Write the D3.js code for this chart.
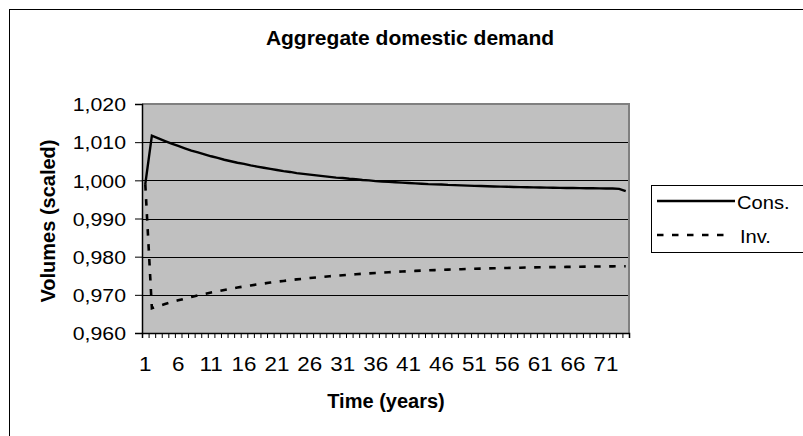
<!DOCTYPE html>
<html><head><meta charset="utf-8">
<script src="https://cdn.jsdelivr.net/npm/d3@7"></script>
<style>
html,body{margin:0;padding:0;background:#fff;}
svg{display:block;font-family:Arial,"Liberation Sans",sans-serif;}
</style></head>
<body>
<svg id="chart" width="803" height="436"></svg>
<script>
const categories = [1,2,3,4,5,6,7,8,9,10,11,12,13,14,15,16,17,18,19,20,21,22,23,24,25,26,27,28,29,30,31,32,33,34,35,36,37,38,39,40,41,42,43,44,45,46,47,48,49,50,51,52,53,54,55,56,57,58,59,60,61,62,63,64,65,66,67,68,69,70,71,72,73,74];
const xTickLabels = [1,6,11,16,21,26,31,36,41,46,51,56,61,66,71];
const yTicks = [0.96,0.97,0.98,0.99,1.00,1.01,1.02];
const yTickLabels = ["0,960","0,970","0,980","0,990","1,000","1,010","1,020"];
const seriesNames = ["Cons.","Inv."];
const cons = [0.9990,1.0117,1.0110,1.0103,1.0096,1.0090,1.0084,1.0078,1.0073,1.0068,1.0063,1.0059,1.0054,1.0050,1.0046,1.0043,1.0039,1.0036,1.0033,1.0030,1.0027,1.0024,1.0022,1.0019,1.0017,1.0015,1.0013,1.0011,1.0009,1.0007,1.0006,1.0004,1.0003,1.0001,1.0000,0.9998,0.9997,0.9996,0.9995,0.9994,0.9993,0.9992,0.9991,0.9990,0.99895,0.9989,0.9988,0.99874,0.99868,0.99862,0.99856,0.9985,0.99845,0.9984,0.99836,0.99831,0.99827,0.99823,0.99819,0.99816,0.99812,0.99809,0.99806,0.99803,0.998,0.99798,0.99795,0.99793,0.99791,0.99789,0.99787,0.99785,0.99775,0.99715];
const inv = [0.9990,0.9665,0.96705,0.96758,0.96807,0.96855,0.969,0.96943,0.96984,0.97023,0.9706,0.97095,0.97128,0.9716,0.9719,0.97219,0.97246,0.97272,0.97297,0.97321,0.97343,0.97364,0.97385,0.97404,0.97422,0.9744,0.97456,0.97472,0.97487,0.97501,0.97515,0.97528,0.9754,0.97552,0.97563,0.97574,0.97584,0.97593,0.97602,0.97611,0.97619,0.97627,0.97635,0.97642,0.97648,0.97655,0.97661,0.97667,0.97672,0.97678,0.97683,0.97687,0.97692,0.97696,0.977,0.97704,0.97708,0.97711,0.97715,0.97718,0.97721,0.97724,0.97726,0.97729,0.97732,0.97734,0.97736,0.97738,0.9774,0.97742,0.97744,0.97746,0.97748,0.97749];

const svg = d3.select("#chart");
const P = {left:142, right:629, top:104, bottom:333};
const SX = 1.15;

// outer frame
svg.append("rect").attr("x",9.5).attr("y",9.5).attr("width",820).attr("height",460)
  .attr("fill","#fff").attr("stroke","#000").attr("stroke-width",1);

const x = d3.scaleBand().domain(categories).range([P.left,P.right]).padding(0);
const xl = d3.scaleLinear().domain([0,categories.length]).range([P.left,P.right]);
const y = d3.scaleLinear().domain([0.96,1.02]).range([P.bottom,P.top]);
const cx = c => x(c) + x.bandwidth()/2;

// plot area
svg.append("rect").attr("x",P.left).attr("y",P.top).attr("width",P.right-P.left).attr("height",P.bottom-P.top)
  .attr("fill","#c0c0c0");

// gridlines
svg.append("g").selectAll("line").data(yTicks.slice(1,-1)).join("line")
  .attr("x1",P.left).attr("x2",P.right).attr("y1",d=>Math.round(y(d))+0.5).attr("y2",d=>Math.round(y(d))+0.5)
  .attr("stroke","#000").attr("stroke-width",1);

// plot border top/right (gray)
svg.append("path").attr("d",`M${P.left},${P.top} L${P.right},${P.top} L${P.right},${P.bottom}`)
  .attr("fill","none").attr("stroke","#808080").attr("stroke-width",2);

// y axis
const yAxis = svg.append("g").attr("transform",`translate(${P.left},0)`)
  .call(d3.axisLeft(y).tickValues(yTicks).tickSize(7).tickPadding(9).tickFormat((d,i)=>yTickLabels[i]));
yAxis.select(".domain").attr("stroke","#000").attr("stroke-width",1.5);
yAxis.selectAll(".tick line").attr("stroke","#000");
yAxis.selectAll("text").attr("font-size",18.5).attr("fill","#000")
  .attr("font-family","Arial, 'Liberation Sans', sans-serif")
  .attr("x",-16/SX).attr("transform",`scale(${SX},1)`).attr("dy","0.36em");

// x axis ticks at band boundaries
const xAxis = svg.append("g").attr("transform",`translate(0,${P.bottom})`)
  .call(d3.axisBottom(xl).tickValues(d3.range(0,categories.length+1)).tickSize(5).tickFormat(""));
xAxis.select(".domain").attr("stroke","#000").attr("stroke-width",1.5);
xAxis.selectAll(".tick line").attr("stroke","#000");

// x tick labels
svg.append("g").selectAll("text").data(xTickLabels).join("text")
  .attr("transform",d=>`translate(${cx(d)},371) scale(${SX},1)`)
  .attr("text-anchor","middle").attr("font-size",19.5).attr("fill","#000").text(d=>d);

// lines
const line = d3.line().x((d,i)=>cx(categories[i])).y(d=>y(d));
svg.append("path").datum(inv).attr("d",line).attr("fill","none").attr("stroke","#000")
  .attr("stroke-width",2.6).attr("stroke-dasharray","6.5,8.5");
svg.append("path").datum(cons).attr("d",line).attr("fill","none").attr("stroke","#000")
  .attr("stroke-width",2.4).attr("stroke-linejoin","miter");

// title
svg.append("text").attr("x",410).attr("y",45).attr("text-anchor","middle")
  .attr("font-size",21).attr("font-weight","bold").text("Aggregate domestic demand");
// axis titles
svg.append("text").attr("transform","translate(55,221) rotate(-90)").attr("text-anchor","middle")
  .attr("font-size",20).attr("font-weight","bold").text("Volumes (scaled)");
svg.append("text").attr("x",386).attr("y",408).attr("text-anchor","middle")
  .attr("font-size",20).attr("font-weight","bold").text("Time (years)");

// legend
const lg = svg.append("g");
lg.append("rect").attr("x",651.5).attr("y",185.5).attr("width",200).attr("height",67)
  .attr("fill","#fff").attr("stroke","#000").attr("stroke-width",1);
const legY = [201, 235];
seriesNames.forEach((n,i)=>{
  lg.append("line").attr("x1",657).attr("x2",i===0?735:724).attr("y1",legY[i]).attr("y2",legY[i])
    .attr("stroke","#000").attr("stroke-width",i===0?2.4:2.6)
    .attr("stroke-dasharray",i===0?null:"6.5,8.5");
  lg.append("text").attr("transform",`translate(${i===0?737:740},${legY[i]+8}) scale(${SX},1)`)
    .attr("font-size",17.5).attr("fill","#000").text(n);
});
</script>
</body></html>
